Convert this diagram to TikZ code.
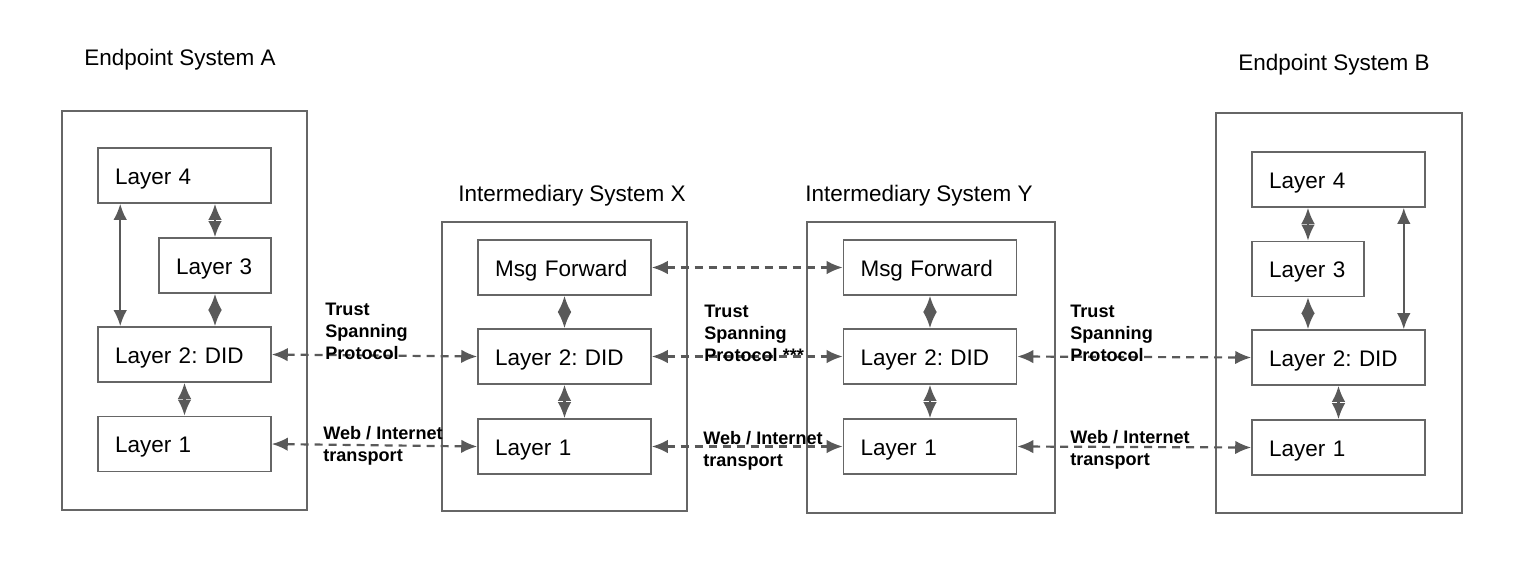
\documentclass[tikz,border=0pt]{standalone}
\usepackage{fontspec}
\setmainfont{Liberation Sans}
\usetikzlibrary{arrows.meta,positioning,calc}
\definecolor{edgegray}{HTML}{595959}
\definecolor{framegray}{HTML}{666666}
\frenchspacing
\tikzset{sysbox/.style={draw=framegray,line width=0.9pt,inner sep=0pt}, layer/.style={draw=framegray,line width=0.9pt,minimum height=1.1cm,text width=2.78cm,text height=1em,text depth=0pt,align=left,inner xsep=3.4mm,inner ysep=0pt,font=\fontsize{12.8}{15}\selectfont}, short/.style={layer,text width=1.56cm}, title/.style={font=\fontsize{12.8}{15}\selectfont,inner sep=0pt}, note/.style={font=\bfseries\fontsize{10.3}{12.5}\selectfont,align=left,anchor=north west,inner sep=0pt}, link/.style={{Latex[length=3.2mm,width=2.7mm]}-{Latex[length=3.2mm,width=2.7mm]},line width=1.25pt,draw=edgegray}, wire/.style={link,dash pattern=on 1.6mm off 1.2mm}}
\begin{document}
\begin{tikzpicture}[x=0.02cm,y=-0.02cm]
\useasboundingbox (0,0) rectangle (1526,576);
\node[sysbox,minimum width=4.9cm,minimum height=7.98cm] (sysA) at (184.5,310.5) {};
\node[sysbox,minimum width=4.9cm,minimum height=5.78cm] (sysX) at (564.5,366.5) {};
\node[sysbox,minimum width=4.96cm,minimum height=5.82cm] (sysY) at (931,367.5) {};
\node[sysbox,minimum width=4.92cm,minimum height=8cm] (sysB) at (1339,313) {};
\node[title] (titA) at (180,60) {Endpoint System A};
\node[title] (titX) at (572,196) {Intermediary System X};
\node[title] (titY) at (919,196) {Intermediary System Y};
\node[title] (titB) at (1334,65) {Endpoint System B};
\node[layer] (aL4) at (184.5,175.5) {Layer 4};
\node[short] (aL3) at (215,265.5) {Layer 3};
\node[layer] (aL2) at (184.5,354.5) {Layer 2: DID};
\node[layer] (aL1) at (184.5,444) {Layer 1};
\node[layer] (xMF) at (564.5,267.5) {Msg Forward};
\node[layer] (xL2) at (564.5,356.5) {Layer 2: DID};
\node[layer] (xL1) at (564.5,446.5) {Layer 1};
\node[layer] (yMF) at (930,267.5) {Msg Forward};
\node[layer] (yL2) at (930,356.5) {Layer 2: DID};
\node[layer] (yL1) at (930,446.5) {Layer 1};
\node[layer] (bL4) at (1338.5,179.5) {Layer 4};
\node[short] (bL3) at (1308,269) {Layer 3};
\node[layer] (bL2) at (1338.5,357.5) {Layer 2: DID};
\node[layer] (bL1) at (1338.5,447.5) {Layer 1};
\draw[link] (aL3.north) -- (aL3.north |- aL4.south);
\draw[link] (aL3.south) -- (aL3.south |- aL2.north);
\draw[link] ([xshift=4.6mm]aL4.south west) -- ([xshift=4.6mm]aL2.north west);
\draw[link] (aL2.south) -- (aL1.north);
\draw[link] (xMF.south) -- (xL2.north);
\draw[link] (xL2.south) -- (xL1.north);
\draw[link] (yMF.south) -- (yL2.north);
\draw[link] (yL2.south) -- (yL1.north);
\draw[link] (bL3.north) -- (bL3.north |- bL4.south);
\draw[link] (bL3.south) -- (bL3.south |- bL2.north);
\draw[link] ([xshift=-4.4mm]bL4.south east) -- ([xshift=-4.4mm]bL2.north east);
\draw[link] (bL2.south) -- (bL1.north);
\draw[wire] (aL2.east) -- (xL2.west);
\draw[wire] (aL1.east) -- (xL1.west);
\draw[wire] (xMF.east) -- (yMF.west);
\draw[wire] (xL2.east) -- (yL2.west);
\draw[wire] (xL1.east) -- (yL1.west);
\draw[wire] (yL2.east) -- (bL2.west);
\draw[wire] (yL1.east) -- (bL1.west);
\node[note] (tspA) at (325,303) {Trust\\Spanning\\Protocol};
\node[note] (tspXY) at (704,305) {Trust\\Spanning\\Protocol ***};
\node[note] (tspB) at (1070,305) {Trust\\Spanning\\Protocol};
\node[note] (webA) at (323,426) {Web / Internet\\transport};
\node[note] (webXY) at (703,431) {Web / Internet\\transport};
\node[note] (webB) at (1070,430) {Web / Internet\\transport};
\end{tikzpicture}
\end{document}
